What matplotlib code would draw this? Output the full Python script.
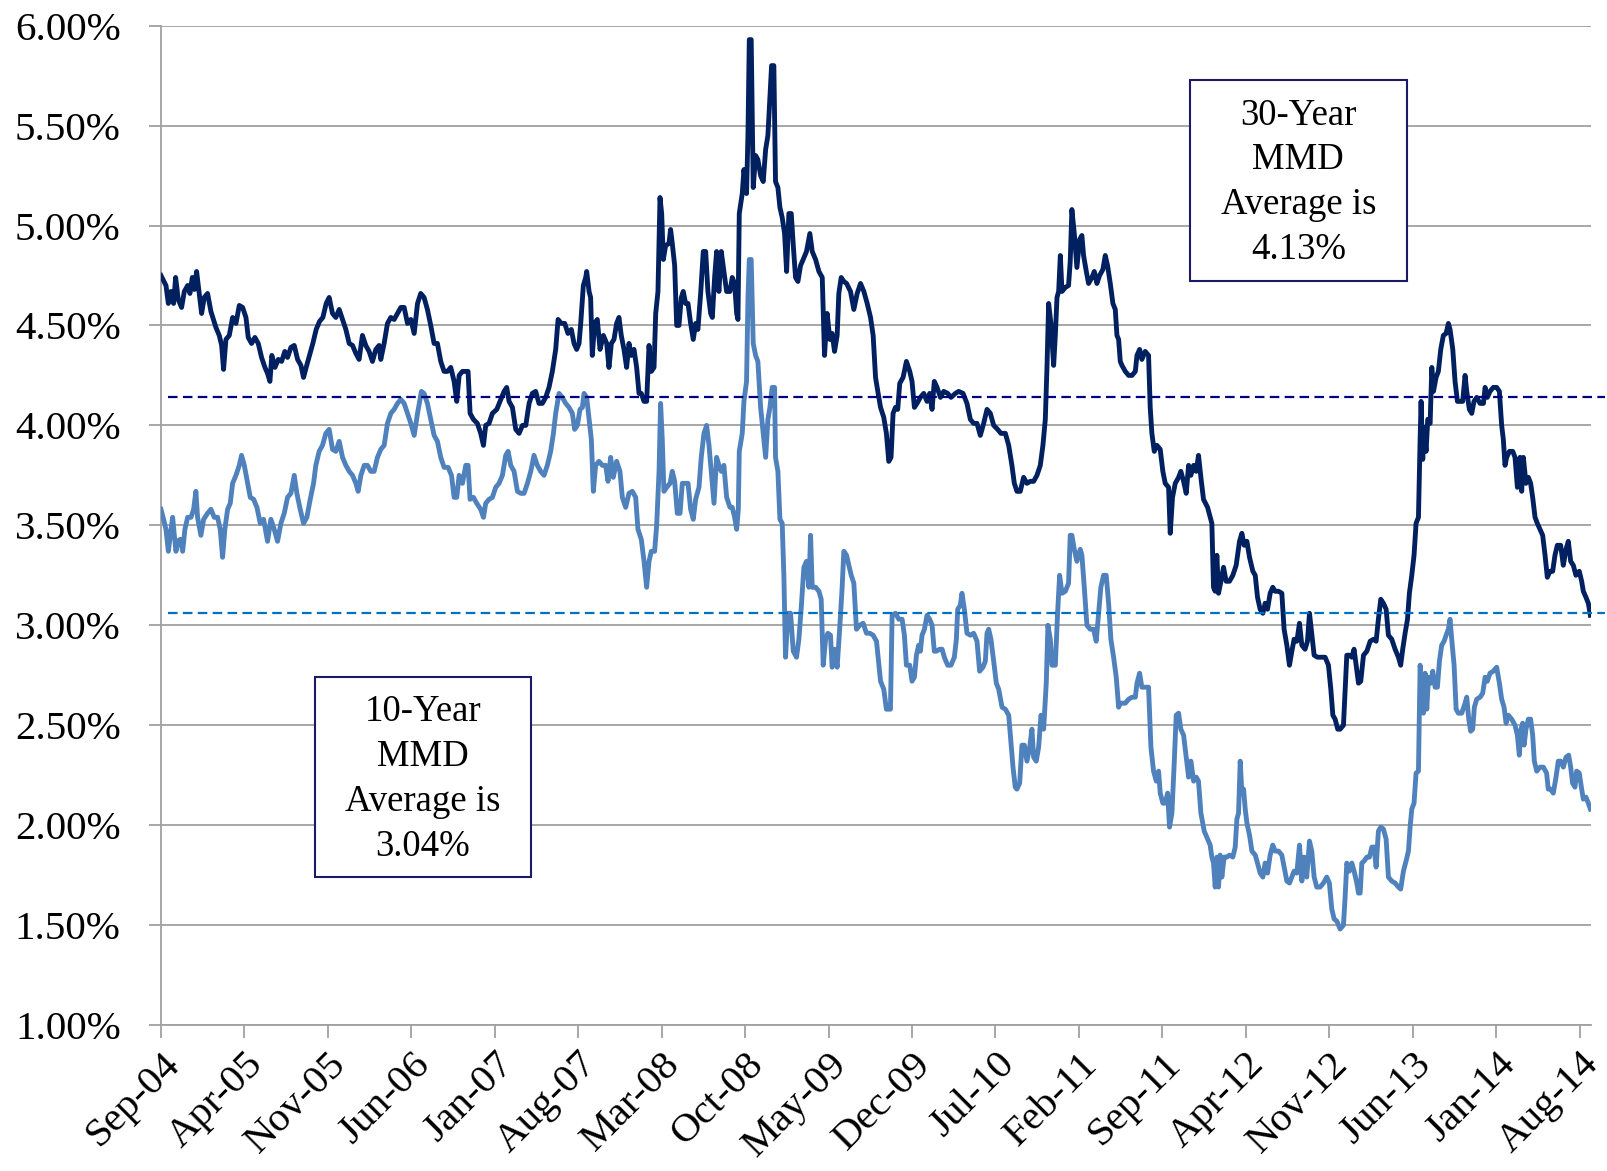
import numpy as np
import matplotlib.pyplot as plt
from matplotlib.patches import Rectangle

plt.rcParams['font.family'] = ['Liberation Serif', 'DejaVu Serif']

# months since Sep-2004, yield in %
mmd_30yr = [
    (0.0, 4.75), (0.42, 4.70), (0.62, 4.61), (0.84, 4.67), (1.06, 4.61), (1.23, 4.74), (1.45, 4.63),
    (1.73, 4.59), (1.96, 4.67), (2.24, 4.70), (2.43, 4.66), (2.63, 4.74), (2.80, 4.68), (2.99, 4.77),
    (3.21, 4.66), (3.41, 4.56), (3.63, 4.64), (3.91, 4.66), (4.19, 4.57), (4.61, 4.49), (4.89, 4.45),
    (5.09, 4.40), (5.25, 4.28), (5.45, 4.43), (5.73, 4.45), (6.01, 4.54), (6.29, 4.51), (6.57, 4.60),
    (6.85, 4.59), (7.13, 4.54), (7.32, 4.44), (7.60, 4.41), (7.88, 4.44), (8.16, 4.41), (8.44, 4.34),
    (8.72, 4.29), (8.94, 4.26), (9.14, 4.22), (9.30, 4.35), (9.56, 4.29), (9.84, 4.33), (10.12, 4.32),
    (10.39, 4.37), (10.62, 4.34), (10.90, 4.39), (11.18, 4.40), (11.46, 4.33), (11.74, 4.30), (11.96, 4.24),
    (12.18, 4.29), (12.46, 4.35), (12.74, 4.41), (13.02, 4.48), (13.30, 4.52), (13.58, 4.54), (13.86, 4.61),
    (14.11, 4.64), (14.39, 4.56), (14.67, 4.54), (14.95, 4.58), (15.23, 4.53), (15.51, 4.48), (15.79, 4.41),
    (16.07, 4.40), (16.35, 4.36), (16.62, 4.33), (16.90, 4.45), (17.18, 4.40), (17.46, 4.37), (17.74, 4.32),
    (18.02, 4.38), (18.30, 4.40), (18.44, 4.33), (18.72, 4.41), (19.00, 4.51), (19.28, 4.54), (19.56, 4.53),
    (19.84, 4.56), (20.12, 4.59), (20.40, 4.59), (20.68, 4.51), (20.96, 4.53), (21.24, 4.46), (21.52, 4.61),
    (21.79, 4.66), (22.07, 4.64), (22.35, 4.58), (22.63, 4.50), (22.91, 4.41), (23.19, 4.41), (23.47, 4.32),
    (23.75, 4.27), (24.03, 4.27), (24.31, 4.29), (24.59, 4.22), (24.81, 4.12), (25.01, 4.25), (25.29, 4.27),
    (25.57, 4.27), (25.76, 4.27), (25.93, 4.06), (26.21, 4.03), (26.54, 4.01), (26.82, 3.96), (27.05, 3.90),
    (27.24, 4.00), (27.52, 4.01), (27.80, 4.06), (28.17, 4.08), (28.44, 4.12), (28.78, 4.17), (29.00, 4.19),
    (29.20, 4.12), (29.48, 4.09), (29.76, 3.98), (30.04, 3.96), (30.32, 4.00), (30.60, 4.00), (30.88, 4.11),
    (31.15, 4.16), (31.43, 4.17), (31.71, 4.11), (31.99, 4.11), (32.27, 4.14), (32.55, 4.19), (32.83, 4.27),
    (33.11, 4.38), (33.31, 4.53), (33.59, 4.51), (33.87, 4.51), (34.14, 4.46), (34.42, 4.48), (34.65, 4.41),
    (34.87, 4.38), (35.07, 4.41), (35.21, 4.51), (35.43, 4.70), (35.63, 4.74), (35.71, 4.77), (35.91, 4.67),
    (36.04, 4.64), (36.18, 4.35), (36.38, 4.51), (36.60, 4.53), (36.83, 4.38), (37.11, 4.45), (37.39, 4.41),
    (37.58, 4.29), (37.78, 4.41), (38.00, 4.43), (38.22, 4.51), (38.42, 4.54), (38.61, 4.45), (38.84, 4.38),
    (39.06, 4.29), (39.26, 4.41), (39.45, 4.35), (39.68, 4.38), (39.90, 4.29), (40.10, 4.16), (40.29, 4.16),
    (40.52, 4.12), (40.74, 4.12), (40.94, 4.40), (41.13, 4.27), (41.36, 4.29), (41.50, 4.56), (41.69, 4.67),
    (41.86, 5.14), (42.00, 5.06), (42.14, 4.83), (42.33, 4.90), (42.61, 4.91), (42.75, 4.98), (42.89, 4.91),
    (43.09, 4.80), (43.26, 4.50), (43.45, 4.50), (43.65, 4.64), (43.81, 4.67), (44.01, 4.61), (44.21, 4.61),
    (44.43, 4.51), (44.65, 4.43), (44.85, 4.51), (45.04, 4.48), (45.27, 4.66), (45.49, 4.87), (45.69, 4.87),
    (45.88, 4.67), (46.11, 4.56), (46.25, 4.54), (46.44, 4.74), (46.61, 4.87), (46.80, 4.67), (47.00, 4.87),
    (47.22, 4.77), (47.45, 4.67), (47.73, 4.67), (47.92, 4.74), (48.12, 4.71), (48.29, 4.56), (48.40, 4.53),
    (48.51, 5.06), (48.76, 5.16), (48.90, 5.28), (49.12, 5.16), (49.24, 5.46), (49.35, 5.93), (49.51, 5.93),
    (49.68, 5.19), (49.88, 5.35), (50.07, 5.33), (50.30, 5.25), (50.52, 5.22), (50.72, 5.38), (50.91, 5.45),
    (51.08, 5.64), (51.22, 5.80), (51.41, 5.80), (51.55, 5.22), (51.75, 5.19), (51.92, 5.09), (52.11, 5.04),
    (52.31, 4.96), (52.48, 4.77), (52.67, 5.06), (52.87, 5.06), (53.04, 4.90), (53.23, 4.74), (53.43, 4.72),
    (53.65, 4.80), (53.87, 4.83), (54.15, 4.87), (54.43, 4.96), (54.63, 4.87), (54.91, 4.83), (55.19, 4.77),
    (55.47, 4.74), (55.66, 4.35), (55.88, 4.56), (56.11, 4.43), (56.30, 4.46), (56.50, 4.37), (56.72, 4.45),
    (56.86, 4.66), (57.06, 4.74), (57.28, 4.72), (57.51, 4.71), (57.84, 4.67), (58.12, 4.58), (58.40, 4.66),
    (58.68, 4.71), (58.96, 4.67), (59.24, 4.61), (59.52, 4.54), (59.74, 4.45), (59.94, 4.24), (60.13, 4.17),
    (60.36, 4.09), (60.63, 4.04), (60.85, 3.96), (61.05, 3.82), (61.24, 3.84), (61.41, 4.06), (61.61, 4.09),
    (61.80, 4.08), (61.97, 4.21), (62.25, 4.24), (62.53, 4.32), (62.81, 4.27), (63.00, 4.22), (63.20, 4.09),
    (63.42, 4.11), (63.70, 4.14), (63.98, 4.16), (64.26, 4.12), (64.48, 4.16), (64.68, 4.08), (64.87, 4.22),
    (65.10, 4.19), (65.38, 4.14), (65.66, 4.17), (65.99, 4.16), (66.27, 4.14), (66.64, 4.16), (66.91, 4.17),
    (67.28, 4.16), (67.61, 4.11), (67.89, 4.03), (68.17, 4.01), (68.45, 4.01), (68.73, 3.95), (69.01, 4.01),
    (69.29, 4.08), (69.57, 4.06), (69.85, 4.00), (70.18, 3.98), (70.46, 3.96), (70.83, 3.96), (71.11, 3.90),
    (71.38, 3.80), (71.58, 3.71), (71.80, 3.67), (72.08, 3.67), (72.36, 3.74), (72.64, 3.71), (72.92, 3.72),
    (73.20, 3.72), (73.48, 3.75), (73.76, 3.80), (73.98, 3.90), (74.18, 4.03), (74.32, 4.29), (74.46, 4.61),
    (74.65, 4.51), (74.88, 4.30), (75.02, 4.45), (75.16, 4.64), (75.30, 4.67), (75.44, 4.85), (75.58, 4.67),
    (75.86, 4.69), (76.13, 4.70), (76.27, 4.82), (76.41, 5.08), (76.61, 4.96), (76.83, 4.79), (77.06, 4.93),
    (77.25, 4.95), (77.39, 4.85), (77.62, 4.77), (77.81, 4.71), (78.09, 4.74), (78.29, 4.77), (78.51, 4.71),
    (78.73, 4.75), (79.01, 4.78), (79.21, 4.85), (79.40, 4.80), (79.63, 4.71), (79.85, 4.61), (80.05, 4.58),
    (80.19, 4.45), (80.33, 4.43), (80.47, 4.32), (80.61, 4.30), (80.89, 4.27), (81.17, 4.25), (81.45, 4.25),
    (81.73, 4.27), (81.87, 4.35), (82.09, 4.38), (82.28, 4.33), (82.56, 4.37), (82.84, 4.35), (82.98, 4.09),
    (83.12, 3.96), (83.32, 3.87), (83.54, 3.90), (83.82, 3.88), (84.04, 3.77), (84.24, 3.71), (84.52, 3.69),
    (84.66, 3.46), (84.85, 3.64), (85.08, 3.71), (85.36, 3.74), (85.55, 3.77), (85.78, 3.72), (86.00, 3.66),
    (86.20, 3.80), (86.39, 3.75), (86.62, 3.80), (86.84, 3.77), (87.03, 3.85), (87.23, 3.74), (87.45, 3.63),
    (87.79, 3.59), (88.01, 3.54), (88.15, 3.51), (88.29, 3.19), (88.43, 3.17), (88.57, 3.35), (88.71, 3.16),
    (88.91, 3.22), (89.13, 3.29), (89.35, 3.22), (89.63, 3.22), (89.91, 3.25), (90.19, 3.30), (90.47, 3.42),
    (90.67, 3.46), (90.86, 3.40), (91.09, 3.42), (91.31, 3.34), (91.59, 3.27), (91.79, 3.25), (91.98, 3.14),
    (92.20, 3.08), (92.43, 3.06), (92.62, 3.11), (92.82, 3.08), (93.04, 3.16), (93.26, 3.19), (93.46, 3.17),
    (93.74, 3.17), (94.02, 3.16), (94.21, 2.98), (94.44, 2.90), (94.66, 2.80), (94.86, 2.87), (95.05, 2.93),
    (95.28, 2.92), (95.50, 3.01), (95.70, 2.90), (95.97, 2.88), (96.17, 2.92), (96.34, 3.06), (96.53, 2.96),
    (96.73, 2.85), (97.01, 2.84), (97.29, 2.84), (97.65, 2.84), (97.93, 2.80), (98.13, 2.68), (98.30, 2.55),
    (98.49, 2.53), (98.71, 2.48), (98.91, 2.48), (99.19, 2.50), (99.33, 2.68), (99.47, 2.85), (99.69, 2.85),
    (99.89, 2.84), (100.08, 2.88), (100.25, 2.80), (100.45, 2.71), (100.64, 2.72), (100.87, 2.85),
    (101.15, 2.87), (101.43, 2.92), (101.71, 2.93), (101.93, 2.92), (102.12, 3.03), (102.32, 3.13),
    (102.54, 3.11), (102.77, 3.08), (102.96, 2.95), (103.24, 2.93), (103.52, 2.88), (103.80, 2.84),
    (103.99, 2.80), (104.16, 2.88), (104.36, 2.96), (104.56, 3.03), (104.72, 3.16), (104.92, 3.25),
    (105.11, 3.35), (105.28, 3.51), (105.48, 3.54), (105.62, 3.93), (105.70, 4.12), (105.84, 3.83),
    (105.95, 3.99), (106.12, 3.87), (106.26, 4.03), (106.46, 4.01), (106.60, 4.29), (106.74, 4.17),
    (106.96, 4.24), (107.15, 4.27), (107.35, 4.38), (107.57, 4.45), (107.80, 4.46), (107.99, 4.51),
    (108.13, 4.48), (108.36, 4.38), (108.55, 4.22), (108.75, 4.12), (108.97, 4.12), (109.19, 4.12),
    (109.39, 4.25), (109.53, 4.17), (109.75, 4.08), (109.95, 4.06), (110.14, 4.12), (110.37, 4.14),
    (110.65, 4.11), (110.93, 4.11), (111.07, 4.19), (111.26, 4.14), (111.48, 4.17), (111.76, 4.19),
    (112.04, 4.19), (112.27, 4.17), (112.46, 4.00), (112.60, 3.93), (112.74, 3.80), (112.88, 3.84),
    (113.11, 3.87), (113.39, 3.87), (113.58, 3.84), (113.78, 3.69), (114.00, 3.84), (114.14, 3.67),
    (114.28, 3.84), (114.50, 3.71), (114.70, 3.74), (114.89, 3.71), (115.06, 3.64), (115.26, 3.54),
    (115.45, 3.51), (115.68, 3.48), (115.90, 3.45), (116.10, 3.35), (116.29, 3.24), (116.51, 3.27),
    (116.74, 3.27), (116.93, 3.35), (117.13, 3.40), (117.41, 3.40), (117.63, 3.30), (117.86, 3.38),
    (118.05, 3.42), (118.25, 3.32), (118.47, 3.30), (118.69, 3.25), (118.97, 3.27), (119.17, 3.22),
    (119.31, 3.17), (119.53, 3.14), (119.73, 3.11), (119.90, 3.05),
]

mmd_10yr = [
    (0.0, 3.58), (0.22, 3.53), (0.42, 3.48), (0.62, 3.37), (0.78, 3.45), (0.98, 3.54), (1.12, 3.45),
    (1.26, 3.37), (1.40, 3.42), (1.62, 3.43), (1.82, 3.37), (2.01, 3.48), (2.24, 3.54), (2.52, 3.54),
    (2.74, 3.58), (2.93, 3.67), (3.07, 3.54), (3.35, 3.45), (3.58, 3.53), (3.91, 3.56), (4.19, 3.58),
    (4.47, 3.54), (4.75, 3.54), (4.97, 3.48), (5.17, 3.34), (5.36, 3.48), (5.59, 3.58), (5.81, 3.61),
    (6.01, 3.71), (6.29, 3.75), (6.57, 3.80), (6.76, 3.85), (6.99, 3.80), (7.27, 3.71), (7.49, 3.64),
    (7.77, 3.63), (8.05, 3.59), (8.33, 3.51), (8.61, 3.53), (8.94, 3.42), (9.22, 3.53), (9.50, 3.48),
    (9.78, 3.42), (10.06, 3.51), (10.34, 3.56), (10.62, 3.64), (10.90, 3.66), (11.18, 3.75), (11.40, 3.66),
    (11.68, 3.58), (11.96, 3.51), (12.24, 3.54), (12.52, 3.63), (12.80, 3.71), (12.99, 3.80), (13.27, 3.87),
    (13.55, 3.90), (13.83, 3.96), (14.11, 3.98), (14.39, 3.88), (14.67, 3.87), (14.95, 3.92), (15.23, 3.84),
    (15.51, 3.80), (15.79, 3.77), (16.07, 3.75), (16.35, 3.71), (16.54, 3.67), (16.77, 3.75), (17.05, 3.80),
    (17.32, 3.80), (17.60, 3.77), (17.88, 3.77), (18.16, 3.84), (18.44, 3.88), (18.72, 3.90), (19.00, 4.01),
    (19.28, 4.06), (19.56, 4.08), (19.84, 4.11), (20.12, 4.13), (20.40, 4.11), (20.68, 4.06), (20.96, 4.01),
    (21.24, 3.95), (21.52, 4.06), (21.85, 4.17), (22.07, 4.16), (22.35, 4.11), (22.63, 4.03), (22.91, 3.95),
    (23.19, 3.92), (23.47, 3.84), (23.75, 3.79), (24.09, 3.79), (24.37, 3.75), (24.59, 3.64), (24.81, 3.64),
    (25.01, 3.75), (25.29, 3.71), (25.57, 3.80), (25.76, 3.80), (25.93, 3.63), (26.21, 3.64), (26.49, 3.61),
    (26.82, 3.58), (27.05, 3.54), (27.24, 3.61), (27.52, 3.63), (27.80, 3.64), (28.08, 3.69), (28.36, 3.71),
    (28.64, 3.75), (28.92, 3.85), (29.12, 3.87), (29.34, 3.80), (29.62, 3.77), (29.90, 3.67), (30.18, 3.66),
    (30.46, 3.66), (30.74, 3.71), (31.02, 3.77), (31.29, 3.85), (31.57, 3.80), (31.85, 3.77), (32.13, 3.75),
    (32.41, 3.80), (32.69, 3.87), (32.92, 3.96), (33.11, 4.06), (33.39, 4.16), (33.67, 4.14), (33.95, 4.11),
    (34.23, 4.09), (34.51, 4.06), (34.70, 3.98), (34.93, 4.00), (35.15, 4.08), (35.35, 4.09), (35.49, 4.16),
    (35.71, 4.14), (35.91, 4.03), (36.10, 3.93), (36.27, 3.67), (36.46, 3.80), (36.74, 3.82), (37.02, 3.80),
    (37.30, 3.80), (37.50, 3.72), (37.72, 3.84), (37.94, 3.74), (38.22, 3.82), (38.50, 3.77), (38.70, 3.64),
    (38.98, 3.59), (39.26, 3.66), (39.54, 3.67), (39.82, 3.64), (40.01, 3.48), (40.29, 3.43), (40.52, 3.32),
    (40.74, 3.19), (40.94, 3.32), (41.13, 3.37), (41.41, 3.37), (41.58, 3.50), (41.78, 3.77), (41.91, 4.11),
    (42.05, 3.93), (42.19, 3.67), (42.42, 3.69), (42.70, 3.71), (42.89, 3.77), (43.09, 3.72), (43.31, 3.56),
    (43.54, 3.56), (43.73, 3.71), (44.01, 3.71), (44.21, 3.71), (44.43, 3.58), (44.65, 3.53), (44.85, 3.63),
    (45.13, 3.69), (45.32, 3.84), (45.55, 3.96), (45.77, 4.00), (45.97, 3.90), (46.16, 3.77), (46.39, 3.61),
    (46.61, 3.84), (46.80, 3.80), (47.00, 3.77), (47.22, 3.80), (47.45, 3.64), (47.73, 3.59), (47.92, 3.59),
    (48.12, 3.54), (48.29, 3.48), (48.43, 3.58), (48.51, 3.87), (48.76, 3.96), (48.90, 4.12), (49.12, 4.22),
    (49.24, 4.64), (49.35, 4.83), (49.51, 4.83), (49.68, 4.41), (49.88, 4.35), (50.07, 4.32), (50.30, 4.09),
    (50.52, 3.96), (50.72, 3.84), (50.91, 4.03), (51.08, 4.09), (51.27, 4.19), (51.47, 4.19), (51.55, 3.84),
    (51.75, 3.77), (51.92, 3.53), (52.11, 3.51), (52.25, 3.25), (52.39, 2.84), (52.59, 3.06), (52.81, 3.06),
    (53.04, 2.87), (53.31, 2.84), (53.51, 2.93), (53.71, 3.09), (53.93, 3.29), (54.15, 3.32), (54.35, 3.19),
    (54.49, 3.45), (54.63, 3.19), (54.91, 3.19), (55.19, 3.17), (55.38, 3.13), (55.55, 2.80), (55.75, 2.93),
    (55.94, 2.96), (56.16, 2.95), (56.30, 2.79), (56.50, 2.88), (56.72, 2.79), (56.95, 3.00), (57.14, 3.19),
    (57.28, 3.37), (57.51, 3.35), (57.70, 3.30), (57.90, 3.25), (58.12, 3.21), (58.34, 2.98), (58.62, 3.00),
    (58.90, 3.01), (59.18, 2.96), (59.46, 2.96), (59.74, 2.95), (60.02, 2.92), (60.22, 2.80), (60.36, 2.72),
    (60.63, 2.68), (60.85, 2.58), (61.05, 2.58), (61.19, 2.58), (61.33, 3.05), (61.61, 3.06), (61.89, 3.03),
    (62.17, 3.03), (62.36, 2.95), (62.53, 2.80), (62.81, 2.80), (63.00, 2.72), (63.20, 2.74), (63.37, 2.85),
    (63.56, 2.90), (63.70, 2.87), (63.84, 2.95), (64.04, 2.98), (64.26, 3.05), (64.48, 3.03), (64.68, 3.00),
    (64.87, 2.87), (65.04, 2.87), (65.32, 2.88), (65.52, 2.88), (65.71, 2.84), (65.99, 2.80), (66.27, 2.80),
    (66.55, 2.84), (66.72, 2.93), (66.83, 3.08), (67.05, 3.10), (67.19, 3.16), (67.39, 3.08), (67.61, 2.96),
    (67.89, 2.95), (68.17, 2.96), (68.45, 2.92), (68.67, 2.77), (68.95, 2.79), (69.15, 2.82), (69.29, 2.96),
    (69.43, 2.98), (69.62, 2.93), (69.85, 2.82), (70.07, 2.71), (70.27, 2.68), (70.55, 2.59), (70.83, 2.58),
    (71.11, 2.55), (71.25, 2.45), (71.47, 2.29), (71.66, 2.19), (71.80, 2.18), (72.03, 2.21), (72.22, 2.40),
    (72.42, 2.40), (72.64, 2.32), (72.87, 2.39), (73.06, 2.48), (73.20, 2.34), (73.42, 2.32), (73.62, 2.39),
    (73.82, 2.55), (74.04, 2.48), (74.26, 2.71), (74.40, 3.00), (74.60, 2.93), (74.74, 2.80), (75.02, 2.80),
    (75.21, 3.06), (75.38, 3.25), (75.58, 3.16), (75.86, 3.17), (76.13, 3.21), (76.27, 3.45), (76.41, 3.45),
    (76.61, 3.38), (76.83, 3.32), (77.11, 3.38), (77.25, 3.35), (77.45, 3.19), (77.67, 3.00), (77.95, 2.98),
    (78.23, 2.98), (78.45, 2.92), (78.65, 3.06), (78.84, 3.19), (79.07, 3.25), (79.29, 3.25), (79.49, 3.11),
    (79.68, 2.93), (79.91, 2.84), (80.13, 2.74), (80.33, 2.59), (80.47, 2.61), (80.61, 2.61), (80.89, 2.61),
    (81.17, 2.63), (81.45, 2.64), (81.73, 2.64), (81.87, 2.71), (82.09, 2.76), (82.28, 2.69), (82.56, 2.69),
    (82.84, 2.69), (83.04, 2.39), (83.26, 2.27), (83.49, 2.22), (83.68, 2.27), (83.82, 2.16), (84.04, 2.11),
    (84.24, 2.11), (84.44, 2.16), (84.60, 1.99), (84.80, 2.06), (85.00, 2.32), (85.16, 2.55), (85.36, 2.56),
    (85.55, 2.48), (85.78, 2.45), (86.00, 2.34), (86.20, 2.24), (86.39, 2.32), (86.62, 2.22), (86.84, 2.24),
    (87.03, 2.22), (87.23, 2.06), (87.51, 1.97), (87.79, 1.93), (88.01, 1.90), (88.15, 1.84), (88.29, 1.81),
    (88.43, 1.69), (88.57, 1.84), (88.71, 1.69), (88.85, 1.85), (88.99, 1.74), (89.18, 1.84), (89.41, 1.84),
    (89.63, 1.85), (89.91, 1.84), (90.11, 1.89), (90.25, 2.03), (90.39, 2.06), (90.53, 2.32), (90.67, 2.16),
    (90.81, 2.18), (90.95, 2.08), (91.09, 2.01), (91.31, 1.95), (91.51, 1.87), (91.79, 1.85), (91.98, 1.81),
    (92.20, 1.76), (92.43, 1.74), (92.62, 1.81), (92.82, 1.76), (93.04, 1.85), (93.26, 1.90), (93.46, 1.87),
    (93.74, 1.87), (94.02, 1.85), (94.21, 1.79), (94.44, 1.72), (94.66, 1.71), (94.86, 1.74), (95.05, 1.77),
    (95.28, 1.76), (95.50, 1.90), (95.70, 1.72), (95.89, 1.84), (96.11, 1.74), (96.34, 1.92), (96.53, 1.87),
    (96.73, 1.74), (96.95, 1.69), (97.23, 1.69), (97.51, 1.71), (97.79, 1.74), (98.01, 1.71), (98.21, 1.58),
    (98.41, 1.53), (98.63, 1.52), (98.91, 1.48), (99.19, 1.50), (99.33, 1.64), (99.47, 1.81), (99.69, 1.77),
    (99.89, 1.81), (100.08, 1.77), (100.31, 1.71), (100.45, 1.66), (100.59, 1.66), (100.73, 1.81),
    (100.92, 1.82), (101.15, 1.84), (101.37, 1.84), (101.57, 1.89), (101.76, 1.89), (101.93, 1.79),
    (102.12, 1.97), (102.32, 1.99), (102.54, 1.98), (102.77, 1.93), (102.96, 1.74), (103.24, 1.72),
    (103.52, 1.71), (103.80, 1.69), (103.99, 1.68), (104.22, 1.77), (104.44, 1.82), (104.64, 1.87),
    (104.78, 1.99), (104.92, 2.08), (105.11, 2.11), (105.28, 2.26), (105.48, 2.27), (105.62, 2.80),
    (105.76, 2.68), (105.90, 2.56), (106.04, 2.76), (106.18, 2.58), (106.32, 2.74), (106.51, 2.71),
    (106.68, 2.77), (106.88, 2.69), (107.07, 2.69), (107.24, 2.82), (107.43, 2.90), (107.63, 2.92),
    (107.80, 2.95), (107.99, 2.98), (108.13, 3.03), (108.27, 2.93), (108.47, 2.80), (108.64, 2.58),
    (108.83, 2.56), (109.11, 2.56), (109.39, 2.61), (109.53, 2.64), (109.70, 2.53), (109.86, 2.47),
    (110.03, 2.48), (110.17, 2.59), (110.37, 2.63), (110.65, 2.64), (110.87, 2.66), (111.07, 2.74),
    (111.26, 2.72), (111.48, 2.76), (111.76, 2.77), (112.04, 2.79), (112.27, 2.71), (112.46, 2.63),
    (112.66, 2.59), (112.83, 2.51), (113.02, 2.55), (113.30, 2.53), (113.58, 2.50), (113.78, 2.45),
    (113.94, 2.35), (114.08, 2.48), (114.22, 2.51), (114.34, 2.40), (114.50, 2.48), (114.70, 2.53),
    (114.89, 2.53), (115.06, 2.45), (115.20, 2.32), (115.40, 2.27), (115.68, 2.29), (115.96, 2.29),
    (116.23, 2.26), (116.37, 2.18), (116.57, 2.18), (116.79, 2.16), (117.02, 2.24), (117.21, 2.32),
    (117.41, 2.32), (117.63, 2.29), (117.86, 2.34), (118.08, 2.35), (118.25, 2.29), (118.41, 2.21),
    (118.61, 2.19), (118.75, 2.27), (118.97, 2.26), (119.17, 2.18), (119.31, 2.13), (119.53, 2.14),
    (119.73, 2.11), (119.90, 2.08),
]

avg_30 = 4.14
avg_10 = 3.06
label_30 = "30-Year\nMMD\nAverage is\n4.13%"
label_10 = "10-Year\nMMD\nAverage is\n3.04%"

tick_months = list(range(0, 120, 7))
tick_labels = ["Sep-04", "Apr-05", "Nov-05", "Jun-06", "Jan-07", "Aug-07", "Mar-08", "Oct-08", "May-09",
               "Dec-09", "Jul-10", "Feb-11", "Sep-11", "Apr-12", "Nov-12", "Jun-13", "Jan-14", "Aug-14"]

navy = "#002060"
light = "#4F81BD"
grid_c = "#A0A0A0"

t30, y30 = np.array(mmd_30yr).T
t10, y10 = np.array(mmd_10yr).T

fig = plt.figure(figsize=(16.08, 11.71), dpi=100)
ax = fig.add_axes([0.1001, 0.1247, 0.8893, 0.8534])

ax.plot(t10, y10, color=light, lw=3.5, zorder=4, solid_joinstyle="round")
ax.plot(t30, y30, color=navy, lw=3.5, zorder=4, solid_joinstyle="round")

# average lines run a little past the plot area
ax.plot([0.6, 121.1], [avg_30, avg_30], color="#000080", lw=1.6, ls=(0, (4.3, 2.4)),
        clip_on=False, zorder=5)
ax.plot([0.6, 121.1], [avg_10, avg_10], color="#0070C0", lw=1.6, ls=(0, (4.3, 2.4)),
        clip_on=False, zorder=5)

ax.set_xlim(0, 119.95)
ax.set_ylim(1.0, 6.0)
ax.set_yticks(np.arange(1.0, 6.01, 0.5))
ax.set_yticklabels([f"{v:.2f}%" for v in np.arange(1.0, 6.01, 0.5)], fontsize=29.5)
ax.set_xticks(tick_months)
ax.set_xticklabels(tick_labels, fontsize=29.5, rotation=45, ha="right", va="top",
                   rotation_mode="anchor")

ax.grid(axis="y", color=grid_c, lw=1.3)
ax.set_axisbelow(True)
for s in ["top", "right"]:
    ax.spines[s].set_visible(False)
for s in ["left", "bottom"]:
    ax.spines[s].set_color(grid_c)
    ax.spines[s].set_linewidth(1.3)
ax.tick_params(axis="y", length=9, width=1.3, color=grid_c, pad=20)
ax.tick_params(axis="x", length=9, width=1.3, color=grid_c, pad=6)

# annotation boxes
ax.add_patch(Rectangle((86.3, 4.72), 18.2, 1.01, fc="white", ec="#1A1A66", lw=1.5, zorder=6))
ax.text(95.4, 5.215, label_30, ha="center", va="center", fontsize=26.5, linespacing=1.39, zorder=7)
ax.add_patch(Rectangle((12.9, 1.74), 18.1, 1.0, fc="white", ec="#1A1A66", lw=1.5, zorder=6))
ax.text(21.95, 2.23, label_10, ha="center", va="center", fontsize=26.5, linespacing=1.39, zorder=7)

fig.savefig("out.png", dpi=100)
